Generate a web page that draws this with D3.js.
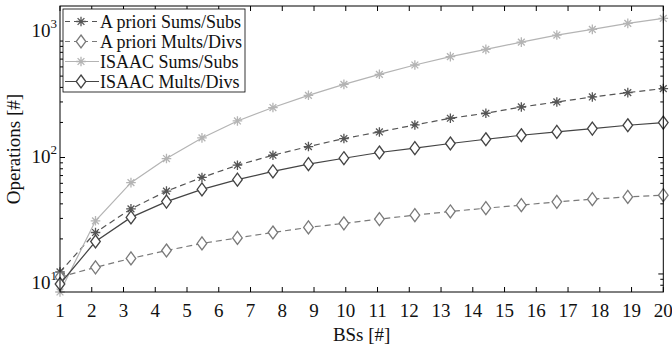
<!DOCTYPE html>
<html>
<head>
<meta charset="utf-8">
<script src="https://cdn.jsdelivr.net/npm/d3@7"></script>
<style>
  body { margin: 0; background: #fff; }
  svg { display: block; font-family: "Liberation Serif", "DejaVu Serif", serif; }
  .tick-label { font-size: 19px; fill: #111; }
  .axis-title { font-size: 19px; fill: #111; }
  .legend text { font-size: 18px; fill: #111; }
</style>
</head>
<body>
<div id="chart"></div>
<script>
// number of BSs (18 samples between 1 and 20)
const bss = [1, 2.118, 3.235, 4.353, 5.471, 6.588, 7.706, 8.824, 9.941,
             11.059, 12.176, 13.294, 14.412, 15.529, 16.647, 17.765, 18.882, 20];

const aprioriSums  = [10.4, 22.7, 36.2, 51.4, 67.4, 85.9, 104.6, 124.2, 145.5,
                      165.8, 190.4, 217.3, 239.9, 271.6, 299.8, 331, 361, 390.7];
const aprioriMults = [9.4, 11.4, 13.6, 15.9, 18.3, 20.4, 22.7, 25.1, 27.2,
                      29.6, 32, 34.4, 36.7, 39, 41.6, 43.9, 45.9, 47.5];
const isaacSums    = [7, 28.6, 60.8, 98, 147.3, 206, 268.5, 342, 425,
                      518, 623, 735, 849, 980, 1126, 1260, 1418, 1565];
const isaacMults   = [8.2, 19, 30.6, 41.8, 53.2, 64.5, 75.9, 87.6, 98.6,
                      110.4, 120.2, 131.9, 143.5, 155.3, 165.8, 177.3, 189.2, 199.6];

const xTicks = d3.range(1, 21);
const yMajor = [10, 100, 1000];
const yDomain = [7, 2000];

const series = [
  { name: 'A priori Sums/Subs',  values: aprioriSums,  color: '#555555', dash: '6,4', marker: 'star' },
  { name: 'A priori Mults/Divs', values: aprioriMults, color: '#7a7a7a', dash: '6,4', marker: 'diamond' },
  { name: 'ISAAC Sums/Subs',     values: isaacSums,    color: '#b4b4b4', dash: null,  marker: 'star' },
  { name: 'ISAAC Mults/Divs',    values: isaacMults,   color: '#444444', dash: null,  marker: 'diamond' }
];

const width = 672;
const height = 347;
const mLeft = 60, mRight = 663.3, mTop = 6, mBottom = 292;

const svg = d3.select('#chart')
  .append('svg')
  .attr('width', width)
  .attr('height', height);

const x = d3.scaleLinear().domain([1, 20]).range([mLeft, mRight]);
const y = d3.scaleLog().domain(yDomain).range([mBottom, mTop]);
// the exported figure places its 10^n labels a bit wider apart than the ticks
const yLabel = d3.scaleLog().domain([10, 1000]).range([281, 29]);

// minor ticks for the log axis
const yMinor = [];
for (const dec of [1, 10, 100, 1000]) {
  for (let k = 2; k <= 9; k++) {
    const v = dec * k;
    if (v > yDomain[0] && v < yDomain[1]) yMinor.push(v);
  }
}

const frame = svg.append('g');

// x ticks, bottom and top, pointing inwards
frame.selectAll('.xt')
  .data(xTicks)
  .enter()
  .append('path')
  .attr('d', (d) => `M${x(d)},${mBottom}v-5M${x(d)},${mTop}v5`)
  .attr('stroke', '#000')
  .attr('stroke-width', 1);

// y ticks, left and right
frame.selectAll('.ymaj')
  .data(yMajor)
  .enter()
  .append('path')
  .attr('d', (d) => `M${mLeft},${y(d)}h5M${mRight},${y(d)}h-5`)
  .attr('stroke', '#000')
  .attr('stroke-width', 1);
frame.selectAll('.ymin')
  .data(yMinor)
  .enter()
  .append('path')
  .attr('d', (d) => `M${mLeft},${y(d)}h3M${mRight},${y(d)}h-3`)
  .attr('stroke', '#000')
  .attr('stroke-width', 1);

// x tick labels
svg.selectAll('.xl')
  .data(xTicks)
  .enter()
  .append('text')
  .attr('class', 'tick-label')
  .attr('x', (d) => x(d))
  .attr('y', mBottom + 25)
  .attr('text-anchor', 'middle')
  .text((d) => d);

// y tick labels 10^n
const yl = svg.selectAll('.yl')
  .data(yMajor)
  .enter()
  .append('text')
  .attr('class', 'tick-label')
  .attr('x', mLeft - 3)
  .attr('y', (d) => yLabel(d) + 8)
  .attr('text-anchor', 'end');
yl.append('tspan').text('10');
yl.append('tspan')
  .attr('dy', -9)
  .style('font-size', '13px')
  .text((d) => Math.round(Math.log10(d)));

// axis titles
svg.append('text')
  .attr('class', 'axis-title')
  .attr('x', (mLeft + mRight) / 2)
  .attr('y', mBottom + 49)
  .attr('text-anchor', 'middle')
  .text('BSs [#]');
svg.append('text')
  .attr('class', 'axis-title')
  .attr('transform', `translate(20, ${(mTop + mBottom) / 2}) rotate(-90)`)
  .attr('text-anchor', 'middle')
  .text('Operations [#]');

// markers
function drawMarker(g, type, color) {
  if (type === 'star') {
    const r = 4.8, q = 3.4;
    g.append('path')
      .attr('d', `M${-r},0H${r}M0,${-r}V${r}M${-q},${-q}L${q},${q}M${-q},${q}L${q},${-q}`)
      .attr('stroke', color)
      .attr('stroke-width', 1.3)
      .attr('fill', 'none');
  } else {
    g.append('path')
      .attr('d', 'M0,-6.5L4.8,0L0,6.5L-4.8,0Z')
      .attr('stroke', color)
      .attr('stroke-width', 1.3)
      .attr('fill', '#fff');
  }
}

const line = d3.line()
  .x((d) => x(d[0]))
  .y((d) => y(d[1]));

const plot = svg.append('g');
for (const s of series) {
  const pts = bss.map((b, i) => [b, s.values[i]]);
  plot.append('path')
    .attr('d', line(pts))
    .attr('fill', 'none')
    .attr('stroke', s.color)
    .attr('stroke-width', 1.2)
    .attr('stroke-dasharray', s.dash);
  pts.forEach((p) => {
    const g = plot.append('g').attr('transform', `translate(${x(p[0])},${y(p[1])})`);
    drawMarker(g, s.marker, s.color);
  });
}

// axes box
svg.append('rect')
  .attr('x', mLeft)
  .attr('y', mTop)
  .attr('width', mRight - mLeft)
  .attr('height', mBottom - mTop)
  .attr('fill', 'none')
  .attr('stroke', '#000')
  .attr('stroke-width', 1);

// legend
const legend = svg.append('g').attr('class', 'legend');
const lx = 63, ly = 9, lw = 182, lh = 83;
legend.append('rect')
  .attr('x', lx)
  .attr('y', ly)
  .attr('width', lw)
  .attr('height', lh)
  .attr('fill', '#fff')
  .attr('stroke', '#000')
  .attr('stroke-width', 0.8);
series.forEach((s, i) => {
  const cy = ly + 12.5 + i * 20;
  legend.append('path')
    .attr('d', `M${lx + 2},${cy}H${lx + 36}`)
    .attr('stroke', s.color)
    .attr('stroke-width', 1.2)
    .attr('stroke-dasharray', s.dash ? '5,4' : null);
  drawMarker(legend.append('g').attr('transform', `translate(${lx + 18},${cy})`), s.marker, s.color);
  legend.append('text')
    .attr('x', lx + 37)
    .attr('y', cy + 6)
    .text(s.name);
});
</script>
</body>
</html>
